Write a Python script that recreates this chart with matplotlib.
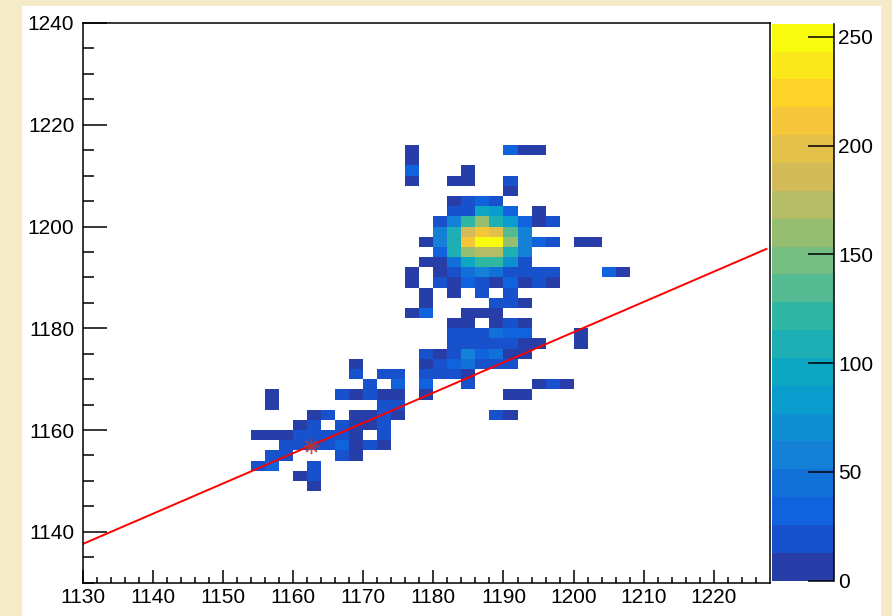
import numpy as np
import matplotlib
matplotlib.use('Agg')
import matplotlib.pyplot as plt
from matplotlib.colors import LinearSegmentedColormap, ListedColormap, BoundaryNorm
from matplotlib.patches import Rectangle

plt.rcParams['font.family'] = ['Liberation Sans', 'DejaVu Sans']

# 2x2 bins: lower-left corner of each filled bin and its content, row by row
cell_x = [
    1176, 1190, 1192, 1194,                                                # 1214
    1176,                                                                  # 1212
    1176, 1184,                                                            # 1210
    1176, 1182, 1184, 1190,                                                # 1208
    1190,                                                                  # 1206
    1182, 1184, 1186, 1188,                                                # 1204
    1182, 1184, 1186, 1188, 1190, 1194,                                    # 1202
    1180, 1182, 1184, 1186, 1188, 1190, 1192, 1194, 1196,                  # 1200
    1180, 1182, 1184, 1186, 1188, 1190, 1192,                              # 1198
    1178, 1180, 1182, 1184, 1186, 1188, 1190, 1192, 1194, 1196, 1200, 1202,  # 1196
    1180, 1182, 1184, 1186, 1188, 1190, 1192,                              # 1194
    1178, 1180, 1182, 1184, 1186, 1188, 1190, 1192,                        # 1192
    1176, 1180, 1182, 1184, 1186, 1188, 1190, 1192, 1194, 1196, 1204, 1206,  # 1190
    1176, 1180, 1182, 1184, 1186, 1188, 1190, 1192, 1194, 1196,            # 1188
    1178, 1182, 1186, 1190,                                                # 1186
    1178, 1188, 1190, 1192,                                                # 1184
    1176, 1178, 1184, 1186, 1188,                                          # 1182
    1182, 1184, 1188, 1190, 1192,                                          # 1180
    1182, 1184, 1186, 1188, 1190, 1192, 1200,                              # 1178
    1182, 1184, 1186, 1188, 1190, 1192, 1194, 1200,                        # 1176
    1178, 1180, 1182, 1184, 1186, 1188, 1190, 1192,                        # 1174
    1168, 1178, 1180, 1182, 1184, 1186, 1188, 1190,                        # 1172
    1168, 1172, 1174, 1178, 1180, 1182, 1184,                              # 1170
    1170, 1174, 1178, 1184, 1194, 1196, 1198,                              # 1168
    1156, 1166, 1168, 1170, 1172, 1174, 1178, 1190, 1192,                  # 1166
    1156, 1172, 1174,                                                      # 1164
    1162, 1164, 1168, 1170, 1172, 1174, 1188, 1190,                        # 1162
    1160, 1162, 1166, 1168, 1170, 1172,                                    # 1160
    1154, 1156, 1158, 1160, 1162, 1164, 1166, 1168, 1172,                  # 1158
    1158, 1160, 1162, 1164, 1166, 1168, 1170, 1172,                        # 1156
    1156, 1158, 1166, 1168,                                                # 1154
    1154, 1156, 1162,                                                      # 1152
    1160, 1162,                                                            # 1150
    1162,                                                                  # 1148
]
cell_y = (
    [1214] * 4 + [1212] * 1 + [1210] * 2 + [1208] * 4 + [1206] * 1 +
    [1204] * 4 + [1202] * 6 + [1200] * 9 + [1198] * 7 + [1196] * 12 +
    [1194] * 7 + [1192] * 8 + [1190] * 12 + [1188] * 10 + [1186] * 4 +
    [1184] * 4 + [1182] * 5 + [1180] * 5 + [1178] * 7 + [1176] * 8 +
    [1174] * 8 + [1172] * 8 + [1170] * 7 + [1168] * 7 + [1166] * 9 +
    [1164] * 3 + [1162] * 8 + [1160] * 6 + [1158] * 9 + [1156] * 8 +
    [1154] * 4 + [1152] * 3 + [1150] * 2 + [1148] * 1
)
cell_counts = [
    4, 32, 6, 5,
    5,
    30, 4,
    6, 3, 5, 22,
    7,
    6, 18, 30, 17,
    19, 20, 90, 84, 32, 5,
    20, 55, 120, 155, 112, 85, 28, 6, 19,
    52, 108, 180, 214, 198, 128, 55,
    5, 54, 110, 211, 256, 247, 160, 57, 30, 20, 6, 4,
    28, 106, 158, 172, 170, 110, 52,
    6, 5, 50, 95, 125, 120, 72, 24,
    5, 7, 22, 44, 52, 42, 19, 18, 20, 17, 28, 6,
    5, 20, 7, 30, 19, 6, 31, 8, 21, 5,
    5, 4, 18, 19,
    6, 20, 18, 7,
    4, 29, 6, 5, 7,
    5, 6, 8, 18, 6,
    20, 21, 19, 42, 30, 31, 5,
    18, 20, 19, 21, 17, 8, 6, 7,
    18, 7, 20, 55, 32, 45, 8, 7,
    5, 6, 19, 30, 48, 21, 19, 18,
    18, 19, 17, 20, 19, 18, 6,
    18, 28, 30, 18, 6, 20, 7,
    5, 19, 6, 18, 7, 6, 5, 6, 5,
    6, 19, 18,
    6, 17, 5, 7, 19, 6, 20, 6,
    6, 18, 19, 7, 6, 19,
    6, 7, 5, 18, 19, 18, 17, 6, 18,
    18, 19, 20, 18, 30, 6, 17, 7,
    19, 18, 19, 6,
    18, 29, 19,
    6, 19,
    6,
]

# straight red line and the marked point
fit_x = [1130.0, 1227.5]
fit_y = [1137.6, 1195.6]
mark_x = [1162.6]
mark_y = [1156.9]

z_max = 256
n_levels = 20

# ROOT kBird palette, 255 colours, picked per contour level like THistPainter does
stops = [0.0, 0.125, 0.25, 0.375, 0.5, 0.625, 0.75, 0.875, 1.0]
red = [0.2082, 0.0592, 0.0780, 0.0232, 0.1802, 0.5301, 0.8186, 0.9956, 0.9764]
green = [0.1664, 0.3599, 0.5041, 0.6419, 0.7178, 0.7492, 0.7328, 0.7862, 0.9832]
blue = [0.5293, 0.8684, 0.8385, 0.7914, 0.6425, 0.4662, 0.3499, 0.1968, 0.0539]
bird = LinearSegmentedColormap.from_list('bird', list(zip(stops, zip(red, green, blue))))
n_pal = 255
level_colors = [bird(int((k + 0.99) * n_pal / n_levels) / (n_pal - 1)) for k in range(n_levels)]
cmap = ListedColormap(level_colors)
norm = BoundaryNorm(np.linspace(0, z_max, n_levels + 1), n_levels)

x_edges = np.arange(1130, 1229, 2)
y_edges = np.arange(1130, 1241, 2)
H = np.full((len(y_edges) - 1, len(x_edges) - 1), np.nan)
for x, y, c in zip(cell_x, cell_y, cell_counts):
    H[(y - 1130) // 2, (x - 1130) // 2] = c

fig = plt.figure(figsize=(8.92, 6.16), dpi=100, facecolor='#f6ebc9')
# white ROOT canvas on the beige page
fig.add_artist(Rectangle((22 / 892, 0), 859 / 892, 610 / 616,
                         transform=fig.transFigure, facecolor='white',
                         edgecolor='none', zorder=-10))

ax = fig.add_axes([82.7 / 892, 1 - 582.7 / 616, (770 - 82.7) / 892, (582.7 - 23) / 616])
ax.set_facecolor('white')
mesh = ax.pcolormesh(x_edges, y_edges, np.ma.masked_invalid(H), cmap=cmap, norm=norm,
                     edgecolors='none', antialiased=False)
ax.plot(fit_x, fit_y, color='red', lw=1.4)
ax.plot(mark_x, mark_y, ls='none', marker=(8, 2, 0), ms=11, mew=1.0,
        color='#b83838', alpha=0.85)

ax.set_xlim(1130, 1228)
ax.set_ylim(1130, 1240)
ax.set_xticks(np.arange(1130, 1221, 10))
ax.set_xticks(np.arange(1130, 1228, 2), minor=True)
ax.set_yticks(np.arange(1140, 1241, 20))
ax.set_yticks(np.arange(1130, 1241, 5), minor=True)
for s in ax.spines.values():
    s.set_linewidth(1.1)
ax.tick_params(which='both', direction='in', top=False, right=False, width=1.1,
               labelsize=15)
ax.tick_params(axis='x', which='major', length=9.4, pad=4)
ax.tick_params(axis='x', which='minor', length=4.3)
ax.tick_params(axis='y', which='major', length=17.3, pad=6)
ax.tick_params(axis='y', which='minor', length=7.9)

cax = fig.add_axes([771.7 / 892, 1 - 580.7 / 616, (834 - 771.7) / 892, (580.7 - 23.7) / 616])
cb = fig.colorbar(mesh, cax=cax)
cb.outline.set_visible(False)
cb.set_ticks(np.arange(0, 251, 50))
cb.minorticks_off()
cax.tick_params(direction='in', length=18.7, width=1.1, labelsize=15, pad=3)
cax.plot([1, 1], [0, 1], transform=cax.transAxes, color='black', lw=1.1, clip_on=False)

fig.savefig('out.png', dpi=100, facecolor=fig.get_facecolor())
